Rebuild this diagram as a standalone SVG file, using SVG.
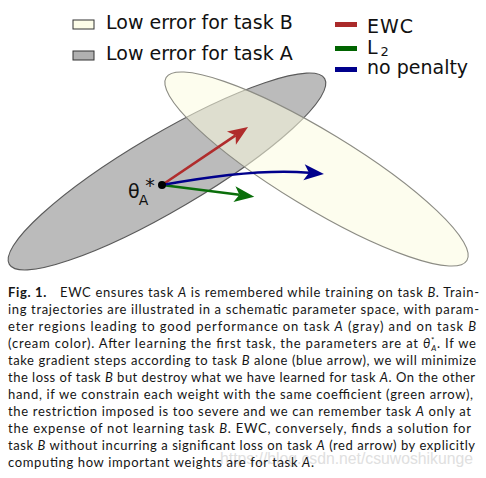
<svg xmlns="http://www.w3.org/2000/svg" width="486" height="478" viewBox="0 0 486 478">
<style>
.lg{font-family:"DejaVu Sans",sans-serif;font-size:19px;fill:#111}
.cap{font-family:Lato,"Liberation Sans",sans-serif;font-size:13px;fill:#151515}
.it{font-style:italic}
.wm{font-family:"Liberation Sans",Arial,sans-serif;font-size:16px;fill:#e0e0e0}
</style>
<defs>
<marker id="hr" markerUnits="userSpaceOnUse" markerWidth="22" markerHeight="18" viewBox="0 -9 21 18" refX="5" refY="0" orient="auto"><path d="M0,-8 L20,0 L0,8 L5,0 Z" fill="#b02c2c"/></marker>
<marker id="hg" markerUnits="userSpaceOnUse" markerWidth="22" markerHeight="18" viewBox="0 -9 21 18" refX="5" refY="0" orient="auto"><path d="M0,-8 L20,0 L0,8 L5,0 Z" fill="#0a6e0a"/></marker>
<marker id="hb" markerUnits="userSpaceOnUse" markerWidth="22" markerHeight="18" viewBox="0 -9 21 18" refX="5" refY="0" orient="auto"><path d="M0,-8 L20,0 L0,8 L5,0 Z" fill="#00008c"/></marker>
</defs>
<rect width="486" height="478" fill="#fff"/>

<g id="region-A">
<ellipse cx="167" cy="171.5" rx="183" ry="38" transform="rotate(-30.5 167 171.5)" fill="#bbbbbb" stroke="#5a5a5a" stroke-width="1.1"/>
</g>
<g id="region-B">
<ellipse cx="316.5" cy="169" rx="176" ry="38" transform="rotate(31.3 316.5 169)" fill="#fbfbe0" fill-opacity="0.55" stroke="#8c8c84" stroke-width="1.1"/>
</g>

<g id="legend">
<rect x="73" y="20" width="21" height="9" fill="#fdfde8" stroke="#333" stroke-width="1"/>
<text class="lg" x="106" y="29">Low error for task B</text>
<rect x="73" y="51" width="21" height="9" fill="#b0b0b0" stroke="#333" stroke-width="1"/>
<text class="lg" x="106" y="60">Low error for task A</text>
<rect x="335" y="22" width="22" height="5" fill="#aa2a2a"/>
<text class="lg" x="367" y="33" letter-spacing="1">EWC</text>
<rect x="335" y="46" width="22" height="5" fill="#006400"/>
<text class="lg" x="367" y="54" font-size="16">L<tspan font-size="13" dx="3" dy="2">2</tspan></text>
<rect x="335" y="67" width="22" height="5" fill="#00008c"/>
<text class="lg" x="367" y="74">no penalty</text>
</g>

<g id="connectors" fill="none" stroke-width="2.6">
<line x1="162" y1="185" x2="235.6" y2="135.4" stroke="#b02c2c" marker-end="url(#hr)"/>
<line x1="162" y1="185" x2="239.4" y2="194.8" stroke="#0a6e0a" marker-end="url(#hg)"/>
<path d="M162,185 Q255,168 309,172.7" stroke="#00008c" marker-end="url(#hb)"/>
</g>

<g id="theta-A">
<circle cx="162" cy="185" r="4" fill="#000"/>
<text class="lg" x="128" y="198" font-size="18">θ<tspan font-size="14" dx="-1" dy="7">A</tspan><tspan dx="-3" dy="-13">*</tspan></text>
</g>

<g id="caption">
<text class="wm" x="220" y="464" textLength="253" lengthAdjust="spacingAndGlyphs">https://blog.csdn.net/csuwoshikunge</text>
<text class="cap" x="8" y="296.5" textLength="471"><tspan font-weight="bold">Fig. 1.</tspan><tspan dx="13">EWC ensures task </tspan><tspan class="it">A</tspan> is remembered while training on task <tspan class="it">B</tspan>. Train-</text>
<text class="cap" x="8" y="313.5" textLength="471">ing trajectories are illustrated in a schematic parameter space, with param-</text>
<text class="cap" x="8" y="330.5" textLength="468">eter regions leading to good performance on task <tspan class="it">A</tspan> (gray) and on task <tspan class="it">B</tspan></text>
<text class="cap" x="8" y="347.5" textLength="468">(cream color). After learning the first task, the parameters are at <tspan class="it">θ</tspan><tspan font-size="8" dy="-5">*</tspan><tspan class="it" font-size="8" dx="-4" dy="8">A</tspan><tspan dy="-3">. If we</tspan></text>
<text class="cap" x="8" y="364.5" textLength="468">take gradient steps according to task <tspan class="it">B</tspan> alone (blue arrow), we will minimize</text>
<text class="cap" x="8" y="381.5" textLength="467">the loss of task <tspan class="it">B</tspan> but destroy what we have learned for task <tspan class="it">A</tspan>. On the other</text>
<text class="cap" x="8" y="398.5" textLength="465">hand, if we constrain each weight with the same coefficient (green arrow),</text>
<text class="cap" x="8" y="415.5" textLength="463">the restriction imposed is too severe and we can remember task <tspan class="it">A</tspan> only at</text>
<text class="cap" x="8" y="432.5" textLength="463">the expense of not learning task <tspan class="it">B</tspan>. EWC, conversely, finds a solution for</text>
<text class="cap" x="8" y="449.5" textLength="467">task <tspan class="it">B</tspan> without incurring a significant loss on task <tspan class="it">A</tspan> (red arrow) by explicitly</text>
<text class="cap" x="8" y="466.5" textLength="306">computing how important weights are for task <tspan class="it">A</tspan>.</text>
</g>
</svg>
